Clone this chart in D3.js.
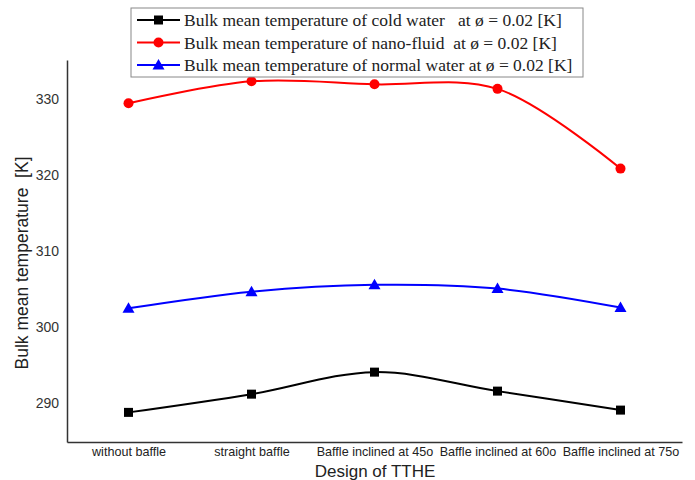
<!DOCTYPE html>
<html><head><meta charset="utf-8">
<script src="https://cdn.jsdelivr.net/npm/d3@7"></script>
<style>body{margin:0;background:#fff}</style>
</head><body>
<svg id="chart" width="695" height="480"></svg>
<script>
const categories = ["without baffle","straight baffle","Baffle inclined at 45o","Baffle inclined at 60o","Baffle inclined at 75o"];
const coldWater = [288.8, 291.2, 294.1, 291.6, 289.1];
const nanoFluid = [329.5, 332.4, 332.0, 331.4, 320.9];
const normalWater = [302.5, 304.7, 305.6, 305.1, 302.6];
const yTicks = [290, 300, 310, 320, 330];
const seriesNames = [
  "Bulk mean temperature of cold water   at \u00f8 = 0.02 [K]",
  "Bulk mean temperature of nano-fluid  at \u00f8 = 0.02 [K]",
  "Bulk mean temperature of normal water at \u00f8 = 0.02 [K]"
];

const svg = d3.select("#chart");
const x = d3.scalePoint().domain(categories).range([67, 682]).padding(0.5);
const y = d3.scaleLinear().domain([284.9, 335.2]).range([442, 60]);

const series = [
  {name: seriesNames[0], values: coldWater, color: "#000000", shape: "square"},
  {name: seriesNames[1], values: nanoFluid, color: "#ff0000", shape: "circle"},
  {name: seriesNames[2], values: normalWater, color: "#0000ff", shape: "triangle"}
];

// axes
const yAxis = svg.append("g").attr("transform","translate(67,0)")
  .call(d3.axisLeft(y).tickValues(yTicks).tickSize(0).tickPadding(8));
yAxis.select(".domain").attr("stroke","#333").attr("stroke-width",1.5);
yAxis.selectAll("text").attr("font-family","Liberation Sans, Arial, sans-serif").attr("font-size",14).attr("fill","#333");

const xAxis = svg.append("g").attr("transform","translate(0,442)")
  .call(d3.axisBottom(x).tickSize(0).tickPadding(5));
xAxis.select(".domain").attr("stroke","#333").attr("stroke-width",1.5);
xAxis.selectAll("text").attr("font-family","Liberation Sans, Arial, sans-serif").attr("font-size",12.6).attr("fill","#222");

svg.append("text").attr("x",375).attr("y",477).attr("text-anchor","middle")
  .attr("font-family","Liberation Sans, Arial, sans-serif").attr("font-size",17).attr("fill","#222")
  .text("Design of TTHE");
svg.append("text").attr("transform","translate(28,263) rotate(-90)").attr("text-anchor","middle")
  .attr("font-family","Liberation Sans, Arial, sans-serif").attr("font-size",17.5).attr("fill","#222")
  .style("white-space","pre")
  .text("Bulk mean temperature  [K]");

const line = d3.line().x((d,i)=>x(categories[i])).y(d=>y(d)).curve(d3.curveCatmullRom.alpha(0.5));

function drawMarker(g, shape, color, cx, cy) {
  if (shape === "square") {
    g.append("rect").attr("x",cx-4.5).attr("y",cy-4.5).attr("width",9).attr("height",9).attr("fill",color);
  } else if (shape === "circle") {
    g.append("circle").attr("cx",cx).attr("cy",cy).attr("r",5).attr("fill",color);
  } else {
    g.append("path").attr("d",`M${cx},${cy-6}L${cx+6},${cy+4.5}L${cx-6},${cy+4.5}Z`).attr("fill",color);
  }
}

series.forEach(s => {
  svg.append("path").datum(s.values).attr("d",line).attr("fill","none")
    .attr("stroke",s.color).attr("stroke-width",2);
  const g = svg.append("g");
  s.values.forEach((v,i)=> drawMarker(g, s.shape, s.color, x(categories[i]), y(v)));
});

// legend
const lg = svg.append("g");
lg.append("rect").attr("x",131).attr("y",8).attr("width",452).attr("height",69)
  .attr("fill","#fff").attr("stroke","#888").attr("stroke-width",1);
series.forEach((s,i)=>{
  const yy = 20 + i*22.5;
  lg.append("line").attr("x1",137).attr("x2",180).attr("y1",yy).attr("y2",yy)
    .attr("stroke",s.color).attr("stroke-width",2);
  drawMarker(lg, s.shape, s.color, 158.5, yy);
  lg.append("text").attr("x",184).attr("y",yy+6).attr("font-family","Liberation Serif, Times New Roman, serif")
    .attr("font-size",17.5).attr("fill","#222").style("white-space","pre").text(s.name);
});
</script>
</body></html>
